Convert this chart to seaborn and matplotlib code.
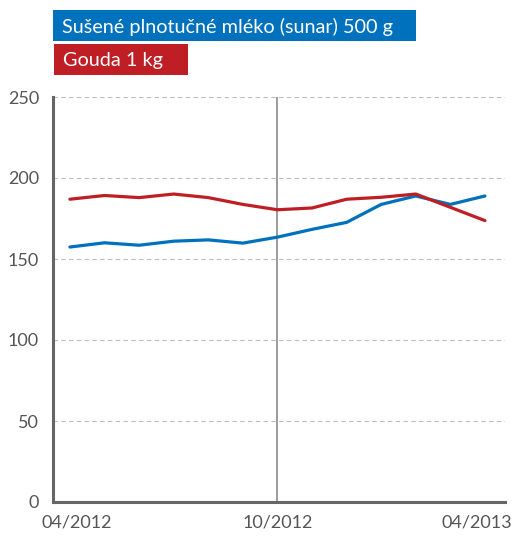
import matplotlib.pyplot as plt
import seaborn as sns
import pandas as pd
from matplotlib.patches import Rectangle

# data (monthly, 04/2012 - 04/2013)
mesice = ["04/2012", "05/2012", "06/2012", "07/2012", "08/2012", "09/2012", "10/2012",
          "11/2012", "12/2012", "01/2013", "02/2013", "03/2013", "04/2013"]
sunar = [157.4, 160.0, 158.5, 161.0, 161.8, 159.8, 163.5, 168.3, 172.6, 183.7, 188.9, 183.7, 188.9]
gouda = [186.9, 189.2, 187.9, 190.1, 187.9, 183.7, 180.4, 181.5, 186.9, 188.1, 190.1, 181.9, 173.7]
nazvy = ["Sušené plnotučné mléko (sunar) 500 g", "Gouda 1 kg"]
barvy = ["#0071BC", "#BE1E24"]
popisky_x = ["04/2012", "10/2012", "04/2013"]

df = pd.DataFrame({"mesic": list(range(len(mesice))) * 2,
                   "cena": sunar + gouda,
                   "produkt": [nazvy[0]] * len(sunar) + [nazvy[1]] * len(gouda)})

sns.set_style("white")
plt.rcParams["font.family"] = ["Lato", "DejaVu Sans"]

W, H = 516, 537
fig = plt.figure(figsize=(W / 100, H / 100), dpi=100)
ax = fig.add_axes([53 / W, 35 / H, 452 / W, 405 / H])

# svisla cara u 10/2012
ax.axvline(mesice.index("10/2012"), color="#8a8a8a", lw=1.2, zorder=1)

sns.lineplot(data=df, x="mesic", y="cena", hue="produkt", palette=barvy,
             lw=2.3, legend=False, ax=ax, zorder=3)

ax.set_xlim(-0.49, 12.58)
ax.set_ylim(0, 250)
ax.set_yticks([0, 50, 100, 150, 200, 250])
# popisky jsou v originale trochu posunute dovnitr
posun = [0.2, 0, -0.23]
ax.set_xticks([mesice.index(m) + p for m, p in zip(popisky_x, posun)])
ax.set_xticklabels(popisky_x)
ax.set_xlabel("")
ax.set_ylabel("")

for y in [50, 100, 150, 200, 250]:
    ax.axhline(y, color="#bdbdbd", lw=0.8, ls=(0, (4, 3)), zorder=0)

for s in ["top", "right"]:
    ax.spines[s].set_visible(False)
for s in ["left", "bottom"]:
    ax.spines[s].set_color("#666666")
    ax.spines[s].set_linewidth(2.2)

ax.tick_params(axis="both", length=0, labelsize=13, colors="#555555")
ax.tick_params(axis="y", pad=10)
ax.tick_params(axis="x", pad=9)

# legenda jako barevne boxy
boxy = [(53, 10, 363, 31), (54, 44, 134, 31)]
for (x0, y0, w, h), nazev, barva in zip(boxy, nazvy, barvy):
    fig.patches.append(Rectangle((x0 / W, 1 - (y0 + h) / H), w / W, h / H,
                                 transform=fig.transFigure, fc=barva, ec="none"))
    fig.text((x0 + 9) / W, 1 - (y0 + h / 2 + 1) / H, nazev, color="white",
             fontsize=14.3, va="center", ha="left")

fig.savefig("out.png", dpi=100)
